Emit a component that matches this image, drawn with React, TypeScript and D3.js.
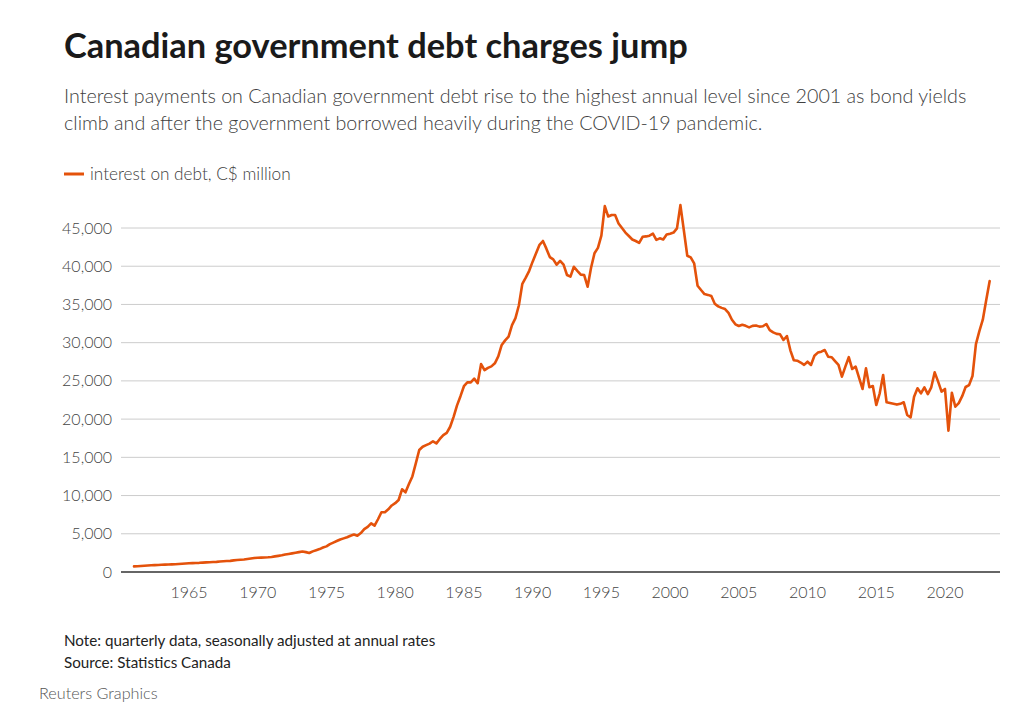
import React from "react";
import * as d3 from "d3";

// Quarterly interest on debt, C$ million, 1961Q1 .. 2023Q2
const startYear = 1961;
const interestOnDebt: number[] = [
  740, 760, 790, 820, // 1961
  850, 880, 900, 920, // 1962
  940, 960, 980, 1000, // 1963
  1020, 1050, 1080, 1110, // 1964
  1140, 1160, 1180, 1200, // 1965
  1230, 1260, 1280, 1300, // 1966
  1330, 1370, 1400, 1430, // 1967
  1460, 1520, 1560, 1600, // 1968
  1640, 1700, 1760, 1830, // 1969
  1870, 1880, 1900, 1920, // 1970
  1970, 2040, 2110, 2180, // 1971
  2280, 2360, 2440, 2520, // 1972
  2600, 2680, 2600, 2480, // 1973
  2700, 2850, 3000, 3200, // 1974
  3350, 3650, 3850, 4050, // 1975
  4250, 4400, 4550, 4750, // 1976
  4900, 4750, 5100, 5600, // 1977
  5900, 6370, 6060, 6900, // 1978
  7810, 7810, 8200, 8700, // 1979
  9000, 9420, 10820, 10420, // 1980
  11500, 12500, 14200, 15960, // 1981
  16390, 16600, 16800, 17100, // 1982
  16830, 17400, 17900, 18200, // 1983
  19000, 20300, 21800, 23000, // 1984
  24300, 24800, 24800, 25300, // 1985
  24700, 27200, 26400, 26700, // 1986
  26900, 27300, 28200, 29700, // 1987
  30300, 30800, 32300, 33200, // 1988
  34900, 37700, 38500, 39400, // 1989
  40600, 41700, 42800, 43300, // 1990
  42300, 41200, 40900, 40200, // 1991
  40700, 40200, 38850, 38630, // 1992
  39930, 39400, 38900, 38850, // 1993
  37320, 39800, 41690, 42400, // 1994
  44000, 47870, 46500, 46700, // 1995
  46700, 45600, 45000, 44400, // 1996
  43950, 43500, 43300, 43050, // 1997
  43850, 43900, 44000, 44250, // 1998
  43450, 43650, 43500, 44150, // 1999
  44250, 44400, 44950, 48000, // 2000
  44700, 41370, 41160, 40380, // 2001
  37450, 36890, 36360, 36250, // 2002
  36100, 35100, 34750, 34550, // 2003
  34400, 33900, 33000, 32400, // 2004
  32180, 32350, 32200, 32000, // 2005
  32200, 32250, 32100, 32150, // 2006
  32440, 31650, 31350, 31150, // 2007
  31090, 30350, 30870, 29000, // 2008
  27700, 27640, 27400, 27100, // 2009
  27510, 27080, 28290, 28700, // 2010
  28820, 29040, 28160, 28100, // 2011
  27600, 27100, 25550, 26860, // 2012
  28100, 26550, 26860, 25400, // 2013
  23940, 26640, 24160, 24330, // 2014
  21840, 23370, 25770, 22200, // 2015
  22100, 22000, 21900, 22000, // 2016
  22200, 20540, 20230, 22930, // 2017
  24030, 23370, 24160, 23280, // 2018
  24160, 26120, 24900, 23600, // 2019
  23940, 18480, 23450, 21620, // 2020
  22100, 23000, 24200, 24450, // 2021
  25640, 29800, 31500, 33000, // 2022
  35580, 38060, // 2023
];

const yTicks = [0, 5000, 10000, 15000, 20000, 25000, 30000, 35000, 40000, 45000];
const xTicks = [1965, 1970, 1975, 1980, 1985, 1990, 1995, 2000, 2005, 2010, 2015, 2020];

const title = "Canadian government debt charges jump";
const subtitleLines = [
  "Interest payments on Canadian government debt rise to the highest annual level since 2001 as bond yields",
  "climb and after the government borrowed heavily during the COVID-19 pandemic.",
];
const legendLabel = "interest on debt, C$ million";
const noteText = "Note: quarterly data, seasonally adjusted at annual rates";
const sourceText = "Source: Statistics Canada";
const creditText = "Reuters Graphics";

const FONT = "Lato, 'Open Sans', sans-serif";
const ORANGE = "#e4520b";

export default function App() {
  const x = d3.scaleLinear().domain([1965, 2020]).range([189, 945]);
  const y = d3.scaleLinear().domain([0, 45000]).range([572, 228]);
  const points = interestOnDebt.map((v, i) => ({ t: startYear + i / 4, v }));
  const line = d3
    .line<{ t: number; v: number }>()
    .x((d) => x(d.t))
    .y((d) => y(d.v));
  const fmt = d3.format(",");
  const gridX0 = 121;
  const gridX1 = 1000;

  return (
    <svg
      width={1033}
      height={711}
      style={{ position: "absolute", left: 0, top: 0, background: "#fff" }}
      fontFamily={FONT}
    >
      <text x={64} y={58} fontSize={34.4} fontWeight={700} fill="#1a1a1a">
        {title}
      </text>
      {subtitleLines.map((s, i) => (
        <text key={i} x={64} y={103 + i * 27} fontSize={19.7} fontWeight={300} fill="#404040">
          {s}
        </text>
      ))}
      <line x1={64} x2={84} y1={174} y2={174} stroke={ORANGE} strokeWidth={3} />
      <text x={90} y={180} fontSize={17.2} fontWeight={300} fill="#404040">
        {legendLabel}
      </text>

      {yTicks.map((t) => (
        <g key={t}>
          {t !== 0 && (
            <line x1={gridX0} x2={gridX1} y1={y(t)} y2={y(t)} stroke="#cccccc" strokeWidth={1} />
          )}
          <text
            x={112}
            y={y(t)}
            dy="0.35em"
            textAnchor="end"
            fontSize={16}
            fontWeight={300}
            fill="#444"
          >
            {fmt(t)}
          </text>
        </g>
      ))}
      <line x1={gridX0} x2={gridX1} y1={y(0)} y2={y(0)} stroke="#333" strokeWidth={1.5} />
      {xTicks.map((t) => (
        <text
          key={t}
          x={x(t)}
          y={598}
          textAnchor="middle"
          fontSize={16}
          fontWeight={300}
          fill="#444"
        >
          {t}
        </text>
      ))}

      <path
        d={line(points) || ""}
        fill="none"
        stroke={ORANGE}
        strokeWidth={2.6}
        strokeLinejoin="round"
        strokeLinecap="round"
      />

      <text x={64} y={646} fontSize={15.2} fill="#222">
        {noteText}
      </text>
      <text x={64} y={668} fontSize={15.2} fill="#222">
        {sourceText}
      </text>
      <text x={39} y={699} fontSize={16.2} fontWeight={300} fill="#555">
        {creditText}
      </text>
    </svg>
  );
}
